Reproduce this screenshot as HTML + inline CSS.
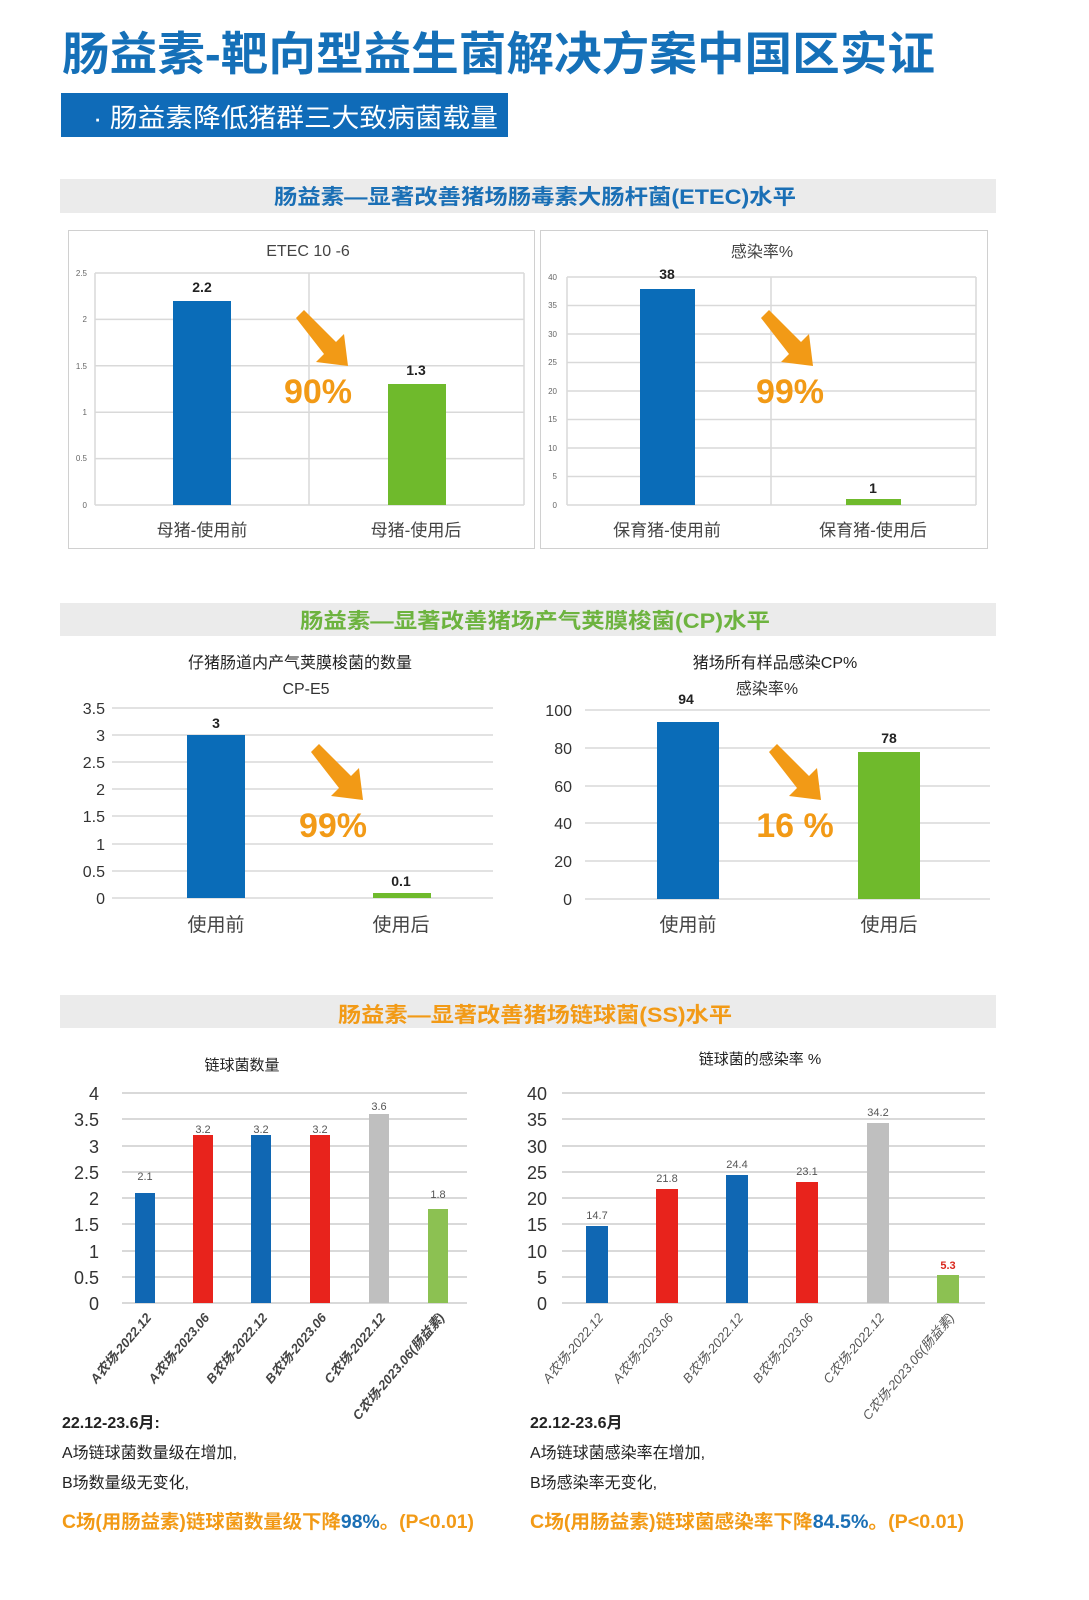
<!DOCTYPE html>
<html><head><meta charset="utf-8"><style>
html,body{margin:0;padding:0;background:#fff;overflow:hidden;width:1089px;height:1600px}
svg{display:block}
text{font-family:"Liberation Sans","Noto Sans CJK SC",sans-serif}
</style></head><body>
<svg width="1089" height="1600" viewBox="0 0 1089 1600" xmlns="http://www.w3.org/2000/svg">
<defs>
<g id="arr"><polygon points="0,8 8,0 40,32 48,24 52,56 20,52 28,44" fill="#f29a16"/></g>
</defs>
<text x="62" y="70" font-size="46" font-weight="bold" fill="#1570b8" textLength="873" lengthAdjust="spacingAndGlyphs">肠益素-靶向型益生菌解决方案中国区实证</text>
<rect x="61" y="93" width="447" height="44" fill="#0f6bb8"/>
<text x="93" y="127" font-size="26" fill="#fff" textLength="405" lengthAdjust="spacingAndGlyphs">· 肠益素降低猪群三大致病菌载量</text>

<rect x="60" y="179" width="936" height="34" fill="#ebebeb"/>
<text x="535" y="204" font-size="21" font-weight="bold" fill="#1a6fb5" text-anchor="middle" textLength="522" lengthAdjust="spacingAndGlyphs">肠益素—显著改善猪场肠毒素大肠杆菌(ETEC)水平</text>
<rect x="68.5" y="230.5" width="466" height="318" fill="none" stroke="#d0d0d0"/>
<rect x="540.5" y="230.5" width="447" height="318" fill="none" stroke="#d0d0d0"/>

<g stroke="#d9d9d9" stroke-width="1.5">
<line x1="95" y1="273" x2="524" y2="273"/><line x1="95" y1="319.4" x2="524" y2="319.4"/><line x1="95" y1="365.8" x2="524" y2="365.8"/><line x1="95" y1="412.2" x2="524" y2="412.2"/><line x1="95" y1="458.6" x2="524" y2="458.6"/><line x1="95" y1="505" x2="524" y2="505"/>
<line x1="95" y1="273" x2="95" y2="505"/><line x1="309" y1="273" x2="309" y2="505"/><line x1="524" y1="273" x2="524" y2="505"/>
</g>
<g font-size="8" fill="#666" text-anchor="end">
<text x="87" y="276">2.5</text><text x="87" y="322">2</text><text x="87" y="369">1.5</text><text x="87" y="415">1</text><text x="87" y="461">0.5</text><text x="87" y="508">0</text>
</g>
<text x="308" y="256" font-size="16" fill="#444" text-anchor="middle">ETEC 10 -6</text>
<rect x="173" y="301" width="58" height="204" fill="#0a6cb8"/>
<rect x="388" y="384" width="58" height="121" fill="#6fba2c"/>
<text x="202" y="292" font-size="14" font-weight="bold" fill="#222" text-anchor="middle">2.2</text>
<text x="416" y="375" font-size="14" font-weight="bold" fill="#222" text-anchor="middle">1.3</text>
<use href="#arr" x="296" y="310"/>
<text x="318" y="403" font-size="34" font-weight="bold" fill="#f29a16" text-anchor="middle">90%</text>
<text x="202" y="536" font-size="17" fill="#444" text-anchor="middle">母猪-使用前</text>
<text x="416" y="536" font-size="17" fill="#444" text-anchor="middle">母猪-使用后</text>

<g stroke="#d9d9d9" stroke-width="1.5">
<line x1="567" y1="277" x2="976" y2="277"/><line x1="567" y1="305.5" x2="976" y2="305.5"/><line x1="567" y1="334" x2="976" y2="334"/><line x1="567" y1="362.5" x2="976" y2="362.5"/><line x1="567" y1="391" x2="976" y2="391"/><line x1="567" y1="419.5" x2="976" y2="419.5"/><line x1="567" y1="448" x2="976" y2="448"/><line x1="567" y1="476.5" x2="976" y2="476.5"/><line x1="567" y1="505" x2="976" y2="505"/>
<line x1="567" y1="277" x2="567" y2="505"/><line x1="771" y1="277" x2="771" y2="505"/><line x1="976" y1="277" x2="976" y2="505"/>
</g>
<g font-size="8" fill="#666" text-anchor="end">
<text x="557" y="280">40</text><text x="557" y="308">35</text><text x="557" y="337">30</text><text x="557" y="365">25</text><text x="557" y="394">20</text><text x="557" y="422">15</text><text x="557" y="451">10</text><text x="557" y="479">5</text><text x="557" y="508">0</text>
</g>
<text x="762" y="257" font-size="16" fill="#444" text-anchor="middle">感染率%</text>
<rect x="640" y="289" width="55" height="216" fill="#0a6cb8"/>
<rect x="846" y="499" width="55" height="6" fill="#6fba2c"/>
<text x="667" y="279" font-size="14" font-weight="bold" fill="#222" text-anchor="middle">38</text>
<text x="873" y="493" font-size="14" font-weight="bold" fill="#222" text-anchor="middle">1</text>
<use href="#arr" x="761" y="310"/>
<text x="790" y="403" font-size="34" font-weight="bold" fill="#f29a16" text-anchor="middle">99%</text>
<text x="667" y="536" font-size="17" fill="#444" text-anchor="middle">保育猪-使用前</text>
<text x="873" y="536" font-size="17" fill="#444" text-anchor="middle">保育猪-使用后</text>

<rect x="60" y="603" width="936" height="33" fill="#ebebeb"/>
<text x="535" y="628" font-size="21" font-weight="bold" fill="#6db33f" text-anchor="middle" textLength="470" lengthAdjust="spacingAndGlyphs">肠益素—显著改善猪场产气荚膜梭菌(CP)水平</text>

<text x="300" y="668" font-size="16" fill="#222" text-anchor="middle">仔猪肠道内产气荚膜梭菌的数量</text>
<text x="306" y="694" font-size="16" fill="#333" text-anchor="middle">CP-E5</text>
<g stroke="#d9d9d9" stroke-width="1.5">
<line x1="112" y1="708" x2="493" y2="708"/><line x1="112" y1="735" x2="493" y2="735"/><line x1="112" y1="762" x2="493" y2="762"/><line x1="112" y1="789" x2="493" y2="789"/><line x1="112" y1="816" x2="493" y2="816"/><line x1="112" y1="844" x2="493" y2="844"/><line x1="112" y1="871" x2="493" y2="871"/><line x1="112" y1="898" x2="493" y2="898"/>
</g>
<g font-size="16" fill="#333" text-anchor="end">
<text x="105" y="714">3.5</text><text x="105" y="741">3</text><text x="105" y="768">2.5</text><text x="105" y="795">2</text><text x="105" y="822">1.5</text><text x="105" y="850">1</text><text x="105" y="877">0.5</text><text x="105" y="904">0</text>
</g>
<rect x="187" y="735" width="58" height="163" fill="#0a6cb8"/>
<rect x="373" y="893" width="58" height="5" fill="#6fba2c"/>
<text x="216" y="728" font-size="14" font-weight="bold" fill="#222" text-anchor="middle">3</text>
<text x="401" y="886" font-size="14" font-weight="bold" fill="#222" text-anchor="middle">0.1</text>
<use href="#arr" x="311" y="744"/>
<text x="333" y="837" font-size="34" font-weight="bold" fill="#f29a16" text-anchor="middle">99%</text>
<text x="216" y="931" font-size="19" fill="#444" text-anchor="middle">使用前</text>
<text x="401" y="931" font-size="19" fill="#444" text-anchor="middle">使用后</text>

<text x="775" y="668" font-size="16" fill="#222" text-anchor="middle">猪场所有样品感染CP%</text>
<text x="767" y="694" font-size="16" fill="#333" text-anchor="middle">感染率%</text>
<g stroke="#d9d9d9" stroke-width="1.5">
<line x1="585" y1="710" x2="990" y2="710"/><line x1="585" y1="748" x2="990" y2="748"/><line x1="585" y1="786" x2="990" y2="786"/><line x1="585" y1="823" x2="990" y2="823"/><line x1="585" y1="861" x2="990" y2="861"/><line x1="585" y1="899" x2="990" y2="899"/>
</g>
<g font-size="16" fill="#333" text-anchor="end">
<text x="572" y="716">100</text><text x="572" y="754">80</text><text x="572" y="792">60</text><text x="572" y="829">40</text><text x="572" y="867">20</text><text x="572" y="905">0</text>
</g>
<rect x="657" y="722" width="62" height="177" fill="#0a6cb8"/>
<rect x="858" y="752" width="62" height="147" fill="#6fba2c"/>
<text x="686" y="704" font-size="14" font-weight="bold" fill="#222" text-anchor="middle">94</text>
<text x="889" y="743" font-size="14" font-weight="bold" fill="#222" text-anchor="middle">78</text>
<use href="#arr" x="769" y="744"/>
<text x="795" y="837" font-size="34" font-weight="bold" fill="#f29a16" text-anchor="middle">16 %</text>
<text x="688" y="931" font-size="19" fill="#444" text-anchor="middle">使用前</text>
<text x="889" y="931" font-size="19" fill="#444" text-anchor="middle">使用后</text>

<rect x="60" y="995" width="936" height="33" fill="#ebebeb"/>
<text x="535" y="1022" font-size="21" font-weight="bold" fill="#f29a16" text-anchor="middle" textLength="394" lengthAdjust="spacingAndGlyphs">肠益素—显著改善猪场链球菌(SS)水平</text>

<text x="242" y="1070" font-size="15" fill="#222" text-anchor="middle">链球菌数量</text>
<g stroke="#d9d9d9" stroke-width="2">
<line x1="122" y1="1093" x2="467" y2="1093"/><line x1="122" y1="1119" x2="467" y2="1119"/><line x1="122" y1="1146" x2="467" y2="1146"/><line x1="122" y1="1172" x2="467" y2="1172"/><line x1="122" y1="1198" x2="467" y2="1198"/><line x1="122" y1="1224" x2="467" y2="1224"/><line x1="122" y1="1251" x2="467" y2="1251"/><line x1="122" y1="1277" x2="467" y2="1277"/><line x1="122" y1="1303" x2="467" y2="1303"/>
</g>
<g font-size="18" fill="#333" text-anchor="end">
<text x="99" y="1100">4</text><text x="99" y="1126">3.5</text><text x="99" y="1153">3</text><text x="99" y="1179">2.5</text><text x="99" y="1205">2</text><text x="99" y="1231">1.5</text><text x="99" y="1258">1</text><text x="99" y="1284">0.5</text><text x="99" y="1310">0</text>
</g>
<rect x="135" y="1193" width="20" height="110" fill="#1067b3"/>
<rect x="193" y="1135" width="20" height="168" fill="#e8231c"/>
<rect x="251" y="1135" width="20" height="168" fill="#1067b3"/>
<rect x="310" y="1135" width="20" height="168" fill="#e8231c"/>
<rect x="369" y="1114" width="20" height="189" fill="#bfbfbf"/>
<rect x="428" y="1209" width="20" height="94" fill="#8cc152"/>
<g font-size="11" fill="#555" text-anchor="middle">
<text x="145" y="1180">2.1</text><text x="203" y="1133">3.2</text><text x="261" y="1133">3.2</text><text x="320" y="1133">3.2</text><text x="379" y="1110">3.6</text><text x="438" y="1198">1.8</text>
</g>
<g font-size="13" font-weight="bold" fill="#444" text-anchor="end" font-style="italic">
<text transform="translate(152,1318) rotate(-50)">A农场-2022.12</text>
<text transform="translate(210,1318) rotate(-50)">A农场-2023.06</text>
<text transform="translate(268,1318) rotate(-50)">B农场-2022.12</text>
<text transform="translate(327,1318) rotate(-50)">B农场-2023.06</text>
<text transform="translate(386,1318) rotate(-50)">C农场-2022.12</text>
<text transform="translate(445,1318) rotate(-50)">C农场-2023.06(肠益素)</text>
</g>

<text x="760" y="1064" font-size="15" fill="#222" text-anchor="middle">链球菌的感染率 %</text>
<g stroke="#d9d9d9" stroke-width="2">
<line x1="562" y1="1093" x2="985" y2="1093"/><line x1="562" y1="1119" x2="985" y2="1119"/><line x1="562" y1="1146" x2="985" y2="1146"/><line x1="562" y1="1172" x2="985" y2="1172"/><line x1="562" y1="1198" x2="985" y2="1198"/><line x1="562" y1="1224" x2="985" y2="1224"/><line x1="562" y1="1251" x2="985" y2="1251"/><line x1="562" y1="1277" x2="985" y2="1277"/><line x1="562" y1="1303" x2="985" y2="1303"/>
</g>
<g font-size="18" fill="#333" text-anchor="end">
<text x="547" y="1100">40</text><text x="547" y="1126">35</text><text x="547" y="1153">30</text><text x="547" y="1179">25</text><text x="547" y="1205">20</text><text x="547" y="1231">15</text><text x="547" y="1258">10</text><text x="547" y="1284">5</text><text x="547" y="1310">0</text>
</g>
<rect x="586" y="1226" width="22" height="77" fill="#1067b3"/>
<rect x="656" y="1189" width="22" height="114" fill="#e8231c"/>
<rect x="726" y="1175" width="22" height="128" fill="#1067b3"/>
<rect x="796" y="1182" width="22" height="121" fill="#e8231c"/>
<rect x="867" y="1123" width="22" height="180" fill="#bfbfbf"/>
<rect x="937" y="1275" width="22" height="28" fill="#8cc152"/>
<g font-size="11" fill="#555" text-anchor="middle">
<text x="597" y="1219">14.7</text><text x="667" y="1182">21.8</text><text x="737" y="1168">24.4</text><text x="807" y="1175">23.1</text><text x="878" y="1116">34.2</text><text x="948" y="1269" fill="#d9261c" font-weight="bold">5.3</text>
</g>
<g font-size="13" fill="#555" text-anchor="end" font-style="italic">
<text transform="translate(604,1318) rotate(-50)">A农场-2022.12</text>
<text transform="translate(674,1318) rotate(-50)">A农场-2023.06</text>
<text transform="translate(744,1318) rotate(-50)">B农场-2022.12</text>
<text transform="translate(814,1318) rotate(-50)">B农场-2023.06</text>
<text transform="translate(885,1318) rotate(-50)">C农场-2022.12</text>
<text transform="translate(955,1318) rotate(-50)">C农场-2023.06(肠益素)</text>
</g>

<g font-size="16" fill="#222">
<text x="62" y="1428" font-weight="bold">22.12-23.6月:</text>
<text x="62" y="1458">A场链球菌数量级在增加,</text>
<text x="62" y="1488">B场数量级无变化,</text>
<text x="530" y="1428" font-weight="bold">22.12-23.6月</text>
<text x="530" y="1458">A场链球菌感染率在增加,</text>
<text x="530" y="1488">B场感染率无变化,</text>
</g>
<text x="62" y="1528" font-size="19" font-weight="bold" fill="#f29a16" textLength="412" lengthAdjust="spacingAndGlyphs">C场(用肠益素)链球菌数量级下降<tspan fill="#1a6fb5">98%</tspan>。(P&lt;0.01)</text>
<text x="530" y="1528" font-size="19" font-weight="bold" fill="#f29a16" textLength="434" lengthAdjust="spacingAndGlyphs">C场(用肠益素)链球菌感染率下降<tspan fill="#1a6fb5">84.5%</tspan>。(P&lt;0.01)</text>
</svg>
</body></html>
